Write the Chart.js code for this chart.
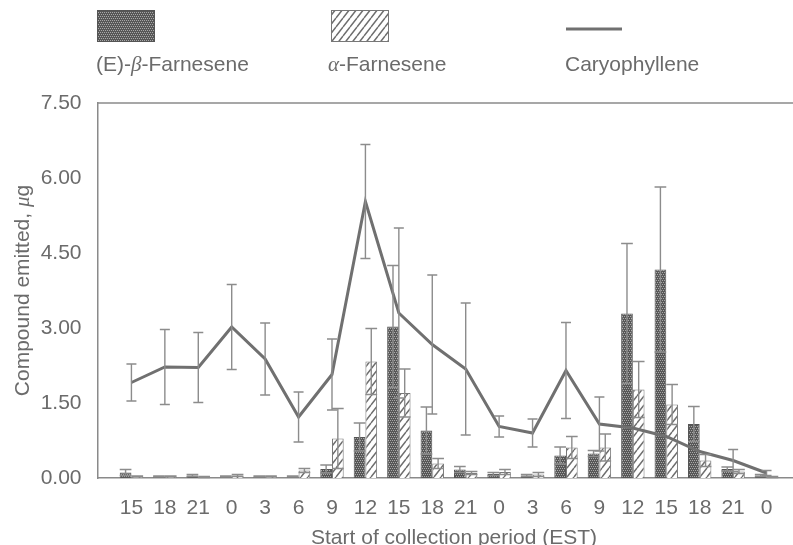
<!DOCTYPE html>
<html>
<head>
<meta charset="utf-8">
<script src="https://cdn.jsdelivr.net/npm/chart.js@4.4.0/dist/chart.umd.min.js"></script>
<style>
  html, body { margin: 0; padding: 0; background: #fff; overflow: hidden; }
  #wrap { width: 793px; height: 545px; overflow: hidden; }
  canvas { display: block; }
</style>
</head>
<body>
<div id="wrap"><canvas id="chart" width="810" height="560"></canvas></div>
<script>
// start of each collection period (EST)
const hours = ['15', '18', '21', '0', '3', '6', '9', '12', '15', '18', '21', '0', '3', '6', '9', '12', '15', '18', '21', '0'];

// (E)-beta-farnesene, ug
const beta    = [0.11, 0.03, 0.05, 0.03, 0.03, 0.03, 0.18, 0.82, 3.03, 0.95, 0.17, 0.08, 0.05, 0.45, 0.49, 3.29, 4.17, 1.08, 0.18, 0.05];
const betaErr = [0.06, 0.01, 0.02, 0.01, 0.01, 0.01, 0.08, 0.28, 1.22, 0.47, 0.06, 0.03, 0.02, 0.17, 0.06, 1.40, 1.65, 0.35, 0.04, 0.02];

// alpha-farnesene, ug
const alpha    = [0.03, 0.03, 0.02, 0.05, 0.03, 0.15, 0.79, 2.33, 1.70, 0.29, 0.10, 0.12, 0.07, 0.61, 0.61, 1.77, 1.47, 0.35, 0.13, 0.02];
const alphaErr = [0.01, 0.01, 0.01, 0.02, 0.01, 0.04, 0.60, 0.66, 0.48, 0.10, 0.03, 0.05, 0.04, 0.22, 0.27, 0.56, 0.40, 0.12, 0.04, 0.01];

// caryophyllene, ug
const caryo    = [1.91, 2.22, 2.21, 3.02, 2.38, 1.22, 2.07, 5.53, 3.30, 2.67, 2.18, 1.03, 0.90, 2.15, 1.08, 1.00, 0.83, 0.53, 0.35, 0.10];
const caryoErr = [0.37, 0.75, 0.70, 0.85, 0.72, 0.50, 0.71, 1.14, 1.70, 1.39, 1.32, 0.21, 0.28, 0.96, 0.54, null, null, null, 0.22, 0.05];

const yTicks = [0, 1.5, 3, 4.5, 6, 7.5];

const TEXT = '#6b6b6b';
const AXIS = '#8a8a8a';
const LINE = '#707070';
const FONT = '"Liberation Sans", Arial, sans-serif';

// motif du beta : gris foncé piqué de points clairs
function makeDots() {
  const c = document.createElement('canvas');
  c.width = 4; c.height = 4;
  const g = c.getContext('2d');
  g.fillStyle = '#575757';
  g.fillRect(0, 0, 4, 4);
  g.fillStyle = '#a8a8a8';
  g.fillRect(0, 0, 1, 1);
  g.fillRect(2, 0, 1, 1);
  g.fillRect(1, 2, 1, 1);
  g.fillRect(3, 2, 1, 1);
  return g.createPattern(c, 'repeat');
}

// hachures ////
function makeHatch() {
  const c = document.createElement('canvas');
  const w = 7, h = 9;
  c.width = w; c.height = h;
  const g = c.getContext('2d');
  g.fillStyle = '#fff';
  g.fillRect(0, 0, w, h);
  g.strokeStyle = '#6e6e6e';
  g.lineWidth = 1.5;
  g.beginPath();
  for (const dx of [-w, 0, w]) {
    g.moveTo(dx, h);
    g.lineTo(dx + w, 0);
  }
  g.stroke();
  return g.createPattern(c, 'repeat');
}

const dots = makeDots();
const hatch = makeHatch();

const toPoints = arr => arr.map((v, i) => ({ x: i + 1, y: v }));

// barres d'erreur symétriques
const errorBars = {
  id: 'errorBars',
  afterDatasetsDraw(chart) {
    const { ctx, scales: { y } } = chart;
    chart.data.datasets.forEach((ds, di) => {
      if (!ds.errors) return;
      const meta = chart.getDatasetMeta(di);
      ctx.save();
      ctx.strokeStyle = '#8c8c8c';
      ctx.lineWidth = 1.4;
      meta.data.forEach((el, i) => {
        const e = ds.errors[i];
        if (e == null) return;
        const v = ds.data[i].y;
        const top = y.getPixelForValue(v + e);
        const bot = y.getPixelForValue(Math.max(0, v - e));
        const half = (ds.capWidth || el.width) / 2;
        ctx.beginPath();
        ctx.moveTo(el.x, top); ctx.lineTo(el.x, bot);
        ctx.moveTo(el.x - half, top); ctx.lineTo(el.x + half, top);
        ctx.moveTo(el.x - half, bot); ctx.lineTo(el.x + half, bot);
        ctx.stroke();
      });
      ctx.restore();
    });
  }
};

function drawRuns(ctx, runs, x, y) {
  let cx = x;
  runs.forEach(([txt, font]) => {
    ctx.font = font;
    ctx.fillText(txt, cx, y);
    cx += ctx.measureText(txt).width;
  });
}

function runsWidth(ctx, runs) {
  let w = 0;
  runs.forEach(([txt, font]) => { ctx.font = font; w += ctx.measureText(txt).width; });
  return w;
}

const N = '21px ' + FONT;
const I = 'italic 21px "Liberation Serif", serif';

// légende en haut, titre de l'axe y, bord supérieur
const decor = {
  id: 'decor',
  afterDraw(chart) {
    const { ctx, chartArea } = chart;
    ctx.save();
    // bord supérieur
    ctx.strokeStyle = AXIS;
    ctx.lineWidth = 1.5;
    ctx.beginPath();
    ctx.moveTo(chartArea.left, chartArea.top);
    ctx.lineTo(chartArea.right, chartArea.top);
    ctx.stroke();

    // échantillons
    ctx.fillStyle = dots;
    ctx.fillRect(97, 10, 58, 32);
    ctx.strokeStyle = '#555';
    ctx.lineWidth = 1;
    ctx.strokeRect(97.5, 10.5, 57, 31);

    ctx.fillStyle = hatch;
    ctx.fillRect(331, 10, 58, 32);
    ctx.strokeStyle = '#777';
    ctx.strokeRect(331.5, 10.5, 57, 31);

    ctx.strokeStyle = LINE;
    ctx.lineWidth = 3;
    ctx.beginPath();
    ctx.moveTo(566, 29);
    ctx.lineTo(622, 29);
    ctx.stroke();

    ctx.fillStyle = TEXT;
    ctx.textBaseline = 'alphabetic';
    ctx.textAlign = 'left';
    drawRuns(ctx, [['(E)-', N], ['\u03B2', I], ['-Farnesene', N]], 96, 70.5);
    drawRuns(ctx, [['\u03B1', I], ['-Farnesene', N]], 328, 70.5);
    drawRuns(ctx, [['Caryophyllene', N]], 565, 70.5);

    // titre de l'axe y
    const runs = [['Compound emitted, ', N], ['\u03BC', I], ['g', N]];
    ctx.translate(28.5, (chartArea.top + chartArea.bottom) / 2);
    ctx.rotate(-Math.PI / 2);
    drawRuns(ctx, runs, -runsWidth(ctx, runs) / 2, 0);
    ctx.restore();
  }
};

Chart.defaults.font.family = FONT;
Chart.defaults.color = TEXT;

new Chart(document.getElementById('chart'), {
  type: 'bar',
  data: {
    datasets: [
      {
        type: 'line',
        label: 'Caryophyllene',
        data: toPoints(caryo),
        errors: caryoErr,
        capWidth: 10,
        borderColor: LINE,
        borderWidth: 3,
        pointRadius: 0,
        tension: 0,
        order: 0
      },
      {
        label: '(E)-\u03B2-Farnesene',
        data: toPoints(beta),
        errors: betaErr,
        backgroundColor: dots,
        borderColor: '#555',
        borderWidth: 1,
        order: 1
      },
      {
        label: '\u03B1-Farnesene',
        data: toPoints(alpha),
        errors: alphaErr,
        backgroundColor: hatch,
        borderColor: '#777',
        borderWidth: 1,
        order: 1
      }
    ]
  },
  options: {
    responsive: false,
    animation: false,
    devicePixelRatio: 1,
    categoryPercentage: 0.7,
    barPercentage: 1.0,
    layout: { padding: { top: 103, left: 0, right: 0, bottom: 0 } },
    plugins: {
      legend: { display: false },
      tooltip: { enabled: false }
    },
    scales: {
      x: {
        type: 'linear',
        offset: false,
        min: 0,
        max: 21.3,
        grid: { display: false, drawTicks: false },
        border: { display: true, color: AXIS, width: 1.5 },
        afterBuildTicks: axis => { axis.ticks = hours.map((h, i) => ({ value: i + 1 })); },
        afterFit: axis => { axis.height = 82; },
        ticks: {
          autoSkip: false,
          maxRotation: 0,
          minRotation: 0,
          padding: 18,
          color: TEXT,
          font: { size: 21 },
          callback: v => hours[v - 1]
        },
        title: {
          display: true,
          text: 'Start of collection period (EST)',
          color: TEXT,
          font: { size: 21 },
          padding: { top: 0, bottom: 9 }
        }
      },
      y: {
        min: 0,
        max: 7.5,
        grid: { display: false, drawTicks: false },
        border: { display: true, color: AXIS, width: 1.5 },
        afterBuildTicks: axis => { axis.ticks = yTicks.map(v => ({ value: v })); },
        afterFit: axis => { axis.width = 98; },
        ticks: {
          padding: 16.5,
          color: TEXT,
          font: { size: 21 },
          callback: v => v.toFixed(2)
        }
      }
    }
  },
  plugins: [errorBars, decor]
});
</script>
</body>
</html>
